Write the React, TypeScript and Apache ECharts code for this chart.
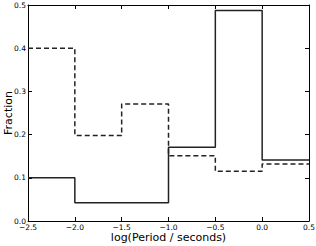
import React, { useEffect, useRef } from "react";
import * as echarts from "echarts";

const binEdges = [-2.5, -2.0, -1.5, -1.0, -0.5, 0.0, 0.5];
const solidValues = [0.1, 0.042, 0.042, 0.171, 0.487, 0.141];
const dashedValues = [0.4, 0.198, 0.271, 0.151, 0.115, 0.132];
const xTicks = [-2.5, -2.0, -1.5, -1.0, -0.5, 0.0, 0.5];
const yTicks = [0.0, 0.1, 0.2, 0.3, 0.4, 0.5];

function stepData(values: number[]) {
  const pts: number[][] = values.map((v, i) => [binEdges[i], v]);
  pts.push([binEdges[binEdges.length - 1], values[values.length - 1]]);
  return pts;
}

const fmt = (v: number) => v.toFixed(1).replace("-", "\u2212");
const FONT = "DejaVu Sans";

export default function App() {
  const ref = useRef<HTMLDivElement>(null);
  useEffect(() => {
    if (!ref.current) return;
    const chart = echarts.init(ref.current, null, { renderer: "svg" });
    const tickStyle = { show: true, inside: true, length: 4, lineStyle: { color: "#000", width: 1 } };
    const lineStyle = { show: true, onZero: false, lineStyle: { color: "#000", width: 1 } };
    chart.setOption({
      animation: false,
      backgroundColor: "#fff",
      grid: { left: 28, top: 5, right: 7, bottom: 25, show: false, containLabel: false, outerBoundsMode: "none" },
      xAxis: [
        {
          type: "value",
          min: xTicks[0],
          max: xTicks[xTicks.length - 1],
          interval: 0.5,
          name: "log(Period / seconds)",
          nameLocation: "middle",
          nameGap: 16,
          nameMoveOverlap: false,
          nameTextStyle: { fontFamily: FONT, fontSize: 11, color: "#000", verticalAlign: "middle" },
          axisLine: lineStyle,
          axisTick: tickStyle,
          splitLine: { show: false },
          axisLabel: { formatter: fmt, fontFamily: FONT, fontSize: 7.5, color: "#000", margin: 2, showMinLabel: true, showMaxLabel: true, hideOverlap: false },
        },
        {
          type: "value",
          position: "top",
          min: xTicks[0],
          max: xTicks[xTicks.length - 1],
          interval: 0.5,
          axisLine: lineStyle,
          axisTick: tickStyle,
          splitLine: { show: false },
          axisLabel: { show: false },
        },
      ],
      yAxis: [
        {
          type: "value",
          min: yTicks[0],
          max: yTicks[yTicks.length - 1],
          interval: 0.1,
          name: "Fraction",
          nameLocation: "middle",
          nameGap: 20,
          nameMoveOverlap: false,
          nameTextStyle: { fontFamily: FONT, fontSize: 11, color: "#000", verticalAlign: "middle" },
          axisLine: lineStyle,
          axisTick: tickStyle,
          splitLine: { show: false },
          axisLabel: { formatter: fmt, fontFamily: FONT, fontSize: 7.5, color: "#000", margin: 2, hideOverlap: false },
        },
        {
          type: "value",
          position: "right",
          min: yTicks[0],
          max: yTicks[yTicks.length - 1],
          interval: 0.1,
          axisLine: lineStyle,
          axisTick: tickStyle,
          splitLine: { show: false },
          axisLabel: { show: false },
        },
      ],
      series: [
        {
          type: "line",
          step: "end",
          data: stepData(dashedValues),
          symbol: "none",
          lineStyle: { color: "#222", width: 1.5, type: [5, 3] },
        },
        {
          type: "line",
          step: "end",
          data: stepData(solidValues),
          symbol: "none",
          lineStyle: { color: "#222", width: 1.5 },
        },
      ],
    });
    return () => chart.dispose();
  }, []);
  return <div ref={ref} style={{ position: "fixed", left: 0, top: 0, width: 316, height: 246 }} />;
}
